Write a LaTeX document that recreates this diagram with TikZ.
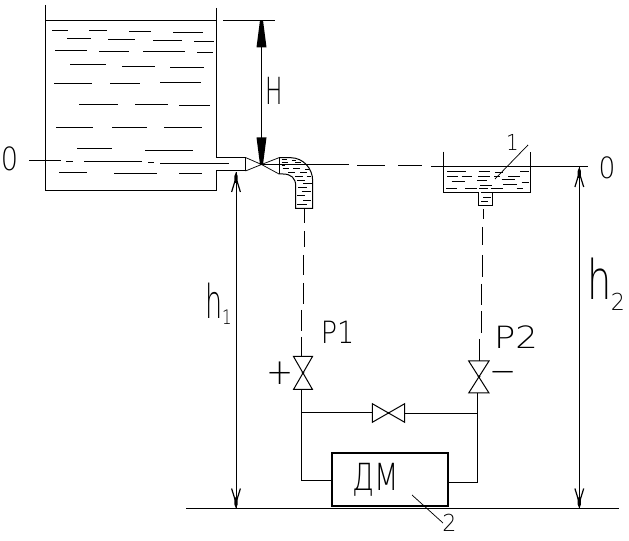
\documentclass[tikz,border=0pt]{standalone}
\usepackage{fontspec}
\setmainfont{DejaVu Sans}
\newfontfamily\lblfont[UprightFont=* ExtraLight]{DejaVu Sans}
\tikzset{
  ln/.style={line width=0.75pt,line cap=butt},
  thin ln/.style={line width=0.55pt},
  lbl/.style={inner sep=0pt,outer sep=0pt,font=\lblfont\fontsize{#1}{#1}\selectfont,transform shape},
  barbhead/.pic={
    \fill (0,0)--(-1.6,4)--(-1.6,11)--(1.6,11)--(1.6,4)--cycle;
    \draw[line width=0.9pt] (-1,9)--(-4.4,20) (1,9)--(4.4,20);
  },
  solidhead/.pic={
    \fill (-1.5,0)--(1.5,0)--(5,27)--(-5,27)--cycle;
  }
}
\begin{document}
\begin{tikzpicture}[x=0.75pt,y=-0.75pt,ln]
\useasboundingbox (0,0) rectangle (629,541);
% reservoir
\draw (45.5,5)--(45.5,191)--(216.5,191)--(216.5,171)--(245.5,171);
\draw (216.5,8)--(216.5,157.5)--(245.5,157.5)--(245.5,171);
\draw (45.5,20.3)--(216.5,20.3);
\draw (223,20.3)--(275,20.3);
\begin{scope}[x=0.25pt,y=-0.25pt]
\foreach \a/\b/\c in {156/204/91,267/321/91,387/453/94,519/609/97,201/273/115,324/405/118,459/546/121,582/642/124,165/261/151,297/387/154,429/555/154,591/639/157,210/318/193,366/465/199,510/612/202,162/276/250,330/420/250,480/603/247,237/354/313,405/504/313,537/630/316,168/279/382,336/441/382,492/606/382,231/336/445,435/579/451,87/183/481,198/219/484,252/426/484,444/462/487,480/687/490,177/261/517,342/471/520,537/606/520}
  \draw (\a,\c)--(\b,\c);
\end{scope}
% nozzle and elbow
\coordinate (nz) at (261.5,164.5);
\draw[thin ln] (245.5,157.5)--(nz)--(279,174) (245.5,171)--(nz)--(279,157.7);
\draw (279,157.7)--(279,174);
\draw (279,157.7)--(291,157.7) .. controls (303,158) and (312.7,168) .. (312.7,181)--(312.7,208.3)--(295.7,208.3)--(295.7,186) .. controls (295.7,178) and (291,174) .. (283,174)--(279,174);
\begin{scope}[shift={(210,130)},x=0.25pt,y=-0.25pt,line width=0.5pt]
\foreach \a/\b/\c in {215/232/88,245/258/90,215/235/97,255/272/98,215/225/106,218/238/115,250/270/115,285/297/118,235/255/127,270/290/128,255/280/140,290/303/140,262/285/152,280/305/160,265/290/172,275/303/185,262/285/197,280/302/210,262/290/222}
  \draw (\a,\c)--(\b,\c);
\end{scope}
% axis 0-0
\draw (262,165)--(349,165);
\draw (357,166)--(385,166);
\draw (398,166)--(422,166);
\draw (431,167)--(588,167);
% receiving vessel
\draw (443.3,151.7)--(443.3,192.7)--(478.5,192.7)--(478.5,205.3)--(492.5,205.3)--(492.5,192.7)--(530.3,192.7)--(530.3,151.7);
\begin{scope}[shift={(420,130)},x=0.25pt,y=-0.25pt,line width=0.6pt]
\foreach \a/\b/\c in {82/138/124,176/210/124,225/250/127,300/328/124,82/115/139,125/155/139,175/210/139,222/240/139,265/300/139,95/135/154,172/200/151,245/285/148,305/328/157,180/216/166,250/290/163,78/112/175,135/170/175,178/205/175,212/250/175,290/310/175,183/216/187,190/214/202,184/205/215}
  \draw (\a,\c)--(\b,\c);
\end{scope}
\coordinate (lead1a) at (495,179);
\coordinate (lead1b) at (528,145);
\draw[thin ln] (lead1a)--(lead1b);
\node[lbl=16.5,xscale=.9] (n1) at (512.5,142) {1};
% dimension H
\coordinate (Hup) at (261.5,20.3);
\draw (Hup)--(nz);
\path (Hup) pic {solidhead};
\path (nz) pic[yscale=-1] {solidhead};
\node[lbl=28,xscale=.62] (H) at (274.5,90.5) {H};
% dimension h1
\coordinate (h1up) at (236,172);
\coordinate (h1dn) at (236,508.5);
\draw (h1up)--(h1dn);
\path (h1up) pic {barbhead};
\path (h1dn) pic[yscale=-1] {barbhead};
\node[lbl=35,xscale=.58] (h1) at (214,301) {h};
\node[lbl=15,xscale=.75] (h1s) at (227,317) {1};
% dimension h2
\coordinate (h2up) at (579.3,167);
\coordinate (h2dn) at (579.3,508.5);
\draw (h2up)--(h2dn);
\path (h2up) pic {barbhead};
\path (h2dn) pic[yscale=-1] {barbhead};
\node[lbl=41,xscale=.7] (h2) at (600,279) {h};
\node[lbl=17.5,xscale=.95] (h2s) at (618,301.5) {2};
% zero marks
\node[lbl=24,xscale=.85] (z1) at (9.5,158.5) {0};
\node[lbl=22,xscale=.9] (z2) at (607,167.5) {0};
% ground
\coordinate (gl) at (186,508.5);
\coordinate (gr) at (619,508.5);
\draw (gl)--(gr);
% valves
\coordinate (v1) at (303,373);
\coordinate (v1t) at (301.5,356.5);
\coordinate (v1b) at (301.5,389.5);
\draw (293.5,356.5)--(312.5,356.5)--(293.5,389.5)--(312.5,389.5)--cycle;
\fill (v1) circle (1.5);
\coordinate (v2) at (479,376.7);
\coordinate (v2t) at (479,361);
\coordinate (v2b) at (477.3,393);
\draw (468.7,361)--(489,361)--(468.7,393)--(489,393)--cycle;
\fill (v2) circle (1.5);
\coordinate (v3l) at (372.3,412.6);
\coordinate (v3r) at (404.7,413.2);
\draw (372.3,403.7)--(372.3,422.3)--(404.7,403.7)--(404.7,422.3)--cycle;
\fill (388.5,413) circle (1);
% impulse lines (dashed)
\foreach \x/\a/\b in {304.5/208.3/223,304.2/231/247,303.5/255/275,303/283/304,301.5/310/331,301.5/337/356.5}
  \draw (\x,\a)--(\x,\b);
\foreach \x/\a/\b in {483/209/219,482.5/227/245,482/255/277,481.5/284/305,481.7/311/333,479/339/361}
  \draw (\x,\a)--(\x,\b);
% DM box
\node[draw,line width=1.6pt,minimum width=87pt,minimum height=40pt,inner sep=0pt,anchor=south west] (dm) at (330.9,507.5) {};
\node[lbl=28,xscale=.76] (dmtext) at (375.5,479.5) {ДМ};
\coordinate (lj) at (301.5,412.6);
\coordinate (rj) at (477.3,413.2);
\draw (v1b)--(301.5,480.3)--(dm.west |- 0,480.3);
\draw (v2b)--(477.3,482.3)--(dm.east |- 0,482.3);
\draw (lj)--(v3l);
\draw (v3r)--(rj);
\coordinate (lead2a) at (412,495);
\coordinate (lead2b) at (443,523);
\draw[thin ln] (lead2a)--(lead2b);
\node[lbl=17.5,xscale=.95] (n2) at (449.5,522.5) {2};
% labels
\node[lbl=23,xscale=.88] (p1) at (337.5,332.5) {P1};
\node[lbl=23,xscale=1.15] (p2) at (516,337.5) {P2};
\node[lbl=27,xscale=.9] (plus) at (280,373) {+};
\node[lbl=27,xscale=.9] (minus) at (503,377.5) {−};
\end{tikzpicture}
\end{document}
